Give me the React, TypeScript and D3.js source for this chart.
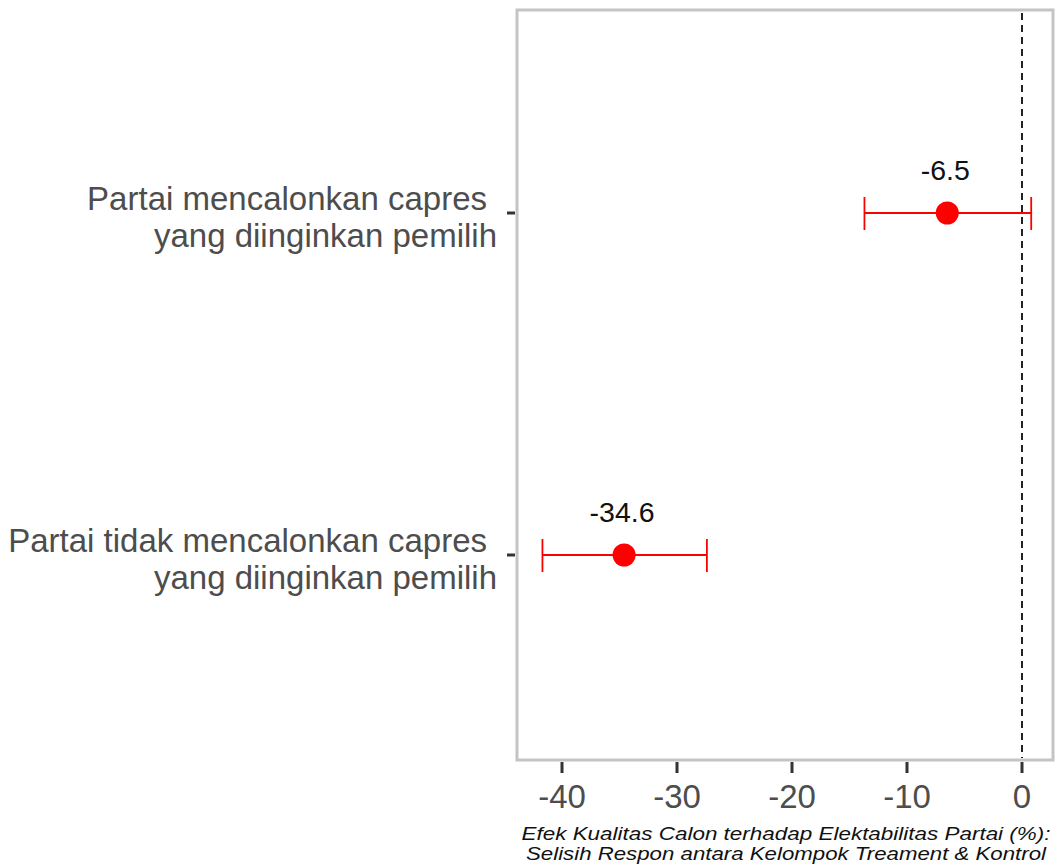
import React from "react";
import * as d3 from "d3";

const categories = [
  ["Partai mencalonkan capres", "yang diinginkan pemilih"],
  ["Partai tidak mencalonkan capres", "yang diinginkan pemilih"],
];
const estimates = [-6.5, -34.6];
const lower = [-13.7, -41.7];
const upper = [0.8, -27.4];
const pointLabels = ["-6.5", "-34.6"];
const xTicks = [-40, -30, -20, -10, 0];
const xTitle = [
  "Efek Kualitas Calon terhadap Elektabilitas Partai (%):",
  "Selisih Respon antara Kelompok Treament & Kontrol",
];

export default function App() {
  const W = 1057, H = 868;
  const panel = { left: 517, right: 1053, top: 10, bottom: 760 };
  const x = d3.scaleLinear().domain([-40, 0]).range([562, 1022]);
  const y = d3.scalePoint<number>().domain([0, 1]).range([213, 555]);
  const font = "Arial, 'Liberation Sans', sans-serif";
  const titleLen = [529, 520];
  return (
    <svg width={W} height={H} style={{ position: "absolute", left: 0, top: 0 }} fontFamily={font}>
      <rect x={panel.left} y={panel.top} width={panel.right - panel.left} height={panel.bottom - panel.top}
        fill="white" stroke="#c4c4c4" strokeWidth={3} />
      <line x1={x(0)} x2={x(0)} y1={panel.top + 3} y2={panel.bottom - 2} stroke="#222" strokeWidth={2} strokeDasharray="7,5" />
      {estimates.map((v, i) => (
        <g key={i}>
          <line x1={x(lower[i])} x2={x(upper[i])} y1={y(i)} y2={y(i)} stroke="#ff0000" strokeWidth={1.8} />
          <line x1={x(lower[i])} x2={x(lower[i])} y1={y(i)! - 16} y2={y(i)! + 17} stroke="#ff0000" strokeWidth={1.8} />
          <line x1={x(upper[i])} x2={x(upper[i])} y1={y(i)! - 16} y2={y(i)! + 17} stroke="#ff0000" strokeWidth={1.8} />
          <circle cx={x(v)} cy={y(i)} r={11.5} fill="#ff0000" />
          <text x={x(v) - 2} y={y(i)! - 33} textAnchor="middle" fontSize={28.5} fill="#111">{pointLabels[i]}</text>
        </g>
      ))}
      {categories.map((lines, i) => (
        <g key={i}>
          <line x1={507} x2={515} y1={y(i)} y2={y(i)} stroke="#333" strokeWidth={3} />
          <text x={487} y={y(i)! - 3} textAnchor="end" fontSize={33} fill="#4d4d4d">{lines[0]}</text>
          <text x={497} y={y(i)! + 34} textAnchor="end" fontSize={33} fill="#4d4d4d">{lines[1]}</text>
        </g>
      ))}
      {xTicks.map((t) => (
        <g key={t}>
          <line x1={x(t)} x2={x(t)} y1={762} y2={773} stroke="#333" strokeWidth={3} />
          <text x={x(t)} y={808} textAnchor="middle" fontSize={33} fill="#4d4d4d">{t}</text>
        </g>
      ))}
      {xTitle.map((s, i) => (
        <text key={i} x={786} y={840 + i * 20} textAnchor="middle" fontSize={17.5} fontStyle="italic" fill="#111"
          textLength={titleLen[i]} lengthAdjust="spacingAndGlyphs">{s}</text>
      ))}
    </svg>
  );
}
